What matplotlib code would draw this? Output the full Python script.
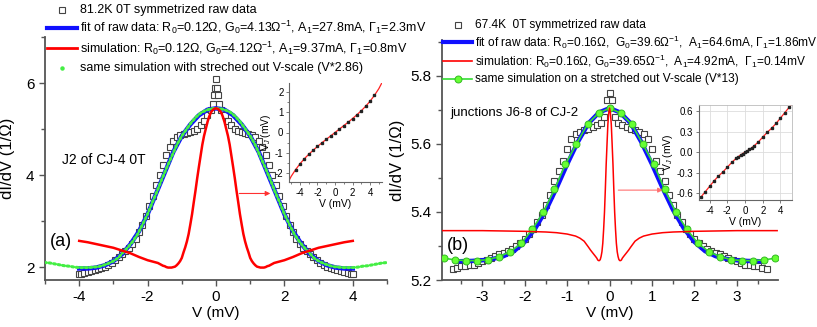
import numpy as np
import matplotlib
matplotlib.use("Agg")
import matplotlib.pyplot as plt
from matplotlib.lines import Line2D
from matplotlib.ticker import MultipleLocator

plt.rcParams['font.family'] = ['Liberation Sans', 'DejaVu Sans']
plt.rcParams['mathtext.fontset'] = 'custom'
plt.rcParams['mathtext.rm'] = 'Liberation Sans'
plt.rcParams['mathtext.it'] = 'Liberation Sans:italic'
plt.rcParams['axes.unicode_minus'] = False

W, H = 817, 327

# ---------------- panel (a) data ----------------
# symmetrized raw data, positive half (mirrored below)
raw_a_v = [0.0, 0.03, 0.06, 0.09, 0.15, 0.25, 0.35, 0.45, 0.55, 0.65, 0.75, 0.85, 0.95,
           1.05, 1.15, 1.25, 1.35, 1.45, 1.55, 1.65, 1.75, 1.85, 1.95, 2.05, 2.15, 2.25,
           2.35, 2.45, 2.55, 2.65, 2.75, 2.85, 2.95, 3.05, 3.15, 3.25, 3.35, 3.45, 3.55,
           3.65, 3.75, 3.85, 3.95, 4.0]
raw_a_g = [6.08, 5.9, 5.73, 5.55, 5.42, 5.3, 5.18, 5.08, 5.0, 4.96, 4.93, 4.92, 4.9,
           4.88, 4.83, 4.74, 4.6, 4.43, 4.22, 4.0, 3.78, 3.55, 3.32, 3.1, 2.92, 2.76,
           2.62, 2.5, 2.42, 2.35, 2.28, 2.22, 2.16, 2.1, 2.05, 2.01, 1.98, 1.95, 1.93,
           1.91, 1.89, 1.87, 1.85, 1.84]
fit_a_v = [0.0, 0.25, 0.5, 0.75, 1.0, 1.25, 1.5, 1.75, 2.0, 2.25, 2.5, 2.75, 3.0,
           3.25, 3.5, 3.75, 4.0]
fit_a_g = [5.45, 5.42, 5.3, 5.1, 4.85, 4.5, 4.05, 3.6, 3.15, 2.78, 2.5, 2.28, 2.13,
           2.04, 1.99, 1.97, 1.97]
sim_a_v = [0.0, 0.05, 0.1, 0.15, 0.2, 0.25, 0.3, 0.35, 0.4, 0.45, 0.5, 0.55, 0.6, 0.65,
           0.7, 0.75, 0.8, 0.85, 0.9, 0.95, 1.0, 1.05, 1.1, 1.15, 1.2, 1.25, 1.3, 1.35,
           1.4, 1.45, 1.5, 1.55, 1.6, 1.65, 1.7, 1.75, 2.0, 2.25, 2.5, 2.75, 3.0, 3.25,
           3.5, 3.75, 4.0]
sim_a_g = [5.45, 5.44, 5.41, 5.36, 5.27, 5.15, 5.0, 4.85, 4.66, 4.42, 4.18, 3.93, 3.66,
           3.41, 3.15, 2.93, 2.72, 2.56, 2.43, 2.32, 2.2, 2.13, 2.08, 2.04, 2.01, 2.0,
           1.99, 1.99, 1.99, 2.0, 2.02, 2.03, 2.05, 2.07, 2.09, 2.1, 2.15, 2.22, 2.3,
           2.36, 2.42, 2.46, 2.5, 2.54, 2.57]
stretch_a = 2.86
# inset (a): V vs V_J
ins_a_v = [0.5, 1.0, 1.5, 2.0, 2.5, 3.0, 3.5, 4.0, 4.5]
ins_a_vj = [0.17, 0.34, 0.51, 0.69, 0.88, 1.08, 1.3, 1.55, 1.84]
ins_a_line_v = [0.5, 1.0, 1.5, 2.0, 2.5, 3.0, 3.5, 4.0, 4.5, 5.0, 5.3]
ins_a_line_vj = [0.17, 0.34, 0.51, 0.69, 0.88, 1.08, 1.3, 1.55, 1.84, 2.17, 2.42]

# ---------------- panel (b) data ----------------
raw_b_v = [0.0, 0.05, 0.12, 0.2, 0.3, 0.4, 0.5, 0.6, 0.7, 0.8, 0.9, 1.0, 1.1, 1.2, 1.3,
           1.4, 1.5, 1.6, 1.7, 1.8, 1.9, 2.0, 2.1, 2.2, 2.3, 2.4, 2.5, 2.6, 2.7, 2.8,
           2.9, 3.0, 3.1, 3.2, 3.3, 3.4, 3.5, 3.6, 3.7]
raw_b_g = [5.75, 5.73, 5.68, 5.66, 5.655, 5.65, 5.645, 5.64, 5.635, 5.63, 5.615, 5.585,
           5.55, 5.52, 5.49, 5.45, 5.42, 5.39, 5.37, 5.35, 5.335, 5.32, 5.31, 5.3, 5.29,
           5.285, 5.28, 5.275, 5.27, 5.265, 5.26, 5.255, 5.25, 5.245, 5.245, 5.24, 5.24,
           5.235, 5.232]
fit_b_v = [0.0, 0.25, 0.5, 0.75, 1.0, 1.25, 1.5, 1.75, 2.0, 2.25, 2.5, 2.75, 3.0, 3.25, 3.6]
fit_b_g = [5.705, 5.692, 5.66, 5.605, 5.54, 5.47, 5.405, 5.352, 5.312, 5.285, 5.27,
           5.262, 5.258, 5.256, 5.255]
sim_b_v = [0.0, 0.02, 0.04, 0.06, 0.08, 0.1, 0.12, 0.14, 0.16, 0.18, 0.2, 0.22, 0.24,
           0.26, 0.28, 0.3, 0.33, 0.4, 0.45, 0.5, 0.6, 0.7, 0.8, 0.9, 1.0, 1.25, 1.5,
           2.0, 2.5, 3.0, 3.5, 3.95]
sim_b_g = [5.705, 5.69, 5.658, 5.60, 5.54, 5.466, 5.399, 5.349, 5.308, 5.283, 5.269,
           5.26, 5.257, 5.257, 5.259, 5.264, 5.269, 5.28, 5.288, 5.297, 5.314, 5.323,
           5.329, 5.332, 5.335, 5.339, 5.341, 5.343, 5.344, 5.345, 5.345, 5.345]
stretch_b = 13
n_stretch_b = 16  # simulated points that stay inside the axis after stretching
ins_b_v = [0.25, 0.5, 0.75, 1.0, 1.5, 2.0, 2.5, 3.0, 3.5, 4.0, 4.5, 5.0]
ins_b_vj = [0.02, 0.04, 0.065, 0.09, 0.15, 0.22, 0.29, 0.35, 0.42, 0.5, 0.58, 0.66]
ins_b_line_v = [0.25, 0.5, 0.75, 1.0, 1.5, 2.0, 2.5, 3.0, 3.5, 4.0, 4.5, 5.0, 5.2]
ins_b_line_vj = [0.02, 0.04, 0.065, 0.09, 0.15, 0.22, 0.29, 0.35, 0.42, 0.5, 0.58, 0.66, 0.69]


def mirror(v, g, odd=False):
    v = np.asarray(v, float)
    g = np.asarray(g, float)
    gs = -g[::-1] if odd else g[::-1]
    if v[0] == 0:
        return np.concatenate([-v[:0:-1], v]), np.concatenate([gs[:-1], g])
    return np.concatenate([-v[::-1], v]), np.concatenate([gs, g])


def px(l, t, r, b):
    return [l / W, 1 - b / H, (r - l) / W, (b - t) / H]


def style_main(ax):
    for s in ['top', 'right']:
        ax.spines[s].set_visible(False)
    for s in ['left', 'bottom']:
        ax.spines[s].set_color('#555555')
        ax.spines[s].set_linewidth(1.3)
    ax.tick_params(which='both', direction='out', colors='#555555', labelcolor='black',
                   labelsize=11)
    ax.tick_params(which='major', length=4, width=1)
    ax.tick_params(which='minor', length=3, width=1)


def style_inset(ax, box=False):
    for s in ['top', 'right']:
        ax.spines[s].set_visible(box)
        ax.spines[s].set_color('#bbbbbb')
        ax.spines[s].set_linewidth(0.6)
    for s in ['left', 'bottom']:
        ax.spines[s].set_color('#666666')
        ax.spines[s].set_linewidth(0.8)
    ax.tick_params(which='both', direction='out', colors='#666666', labelcolor='black',
                   labelsize=7, length=2.5, width=0.6, pad=1.5)
    ax.patch.set_alpha(0)


def key(x0, x1, y, text, fs, marker_only=False, **kw):
    if marker_only:
        fig.add_artist(Line2D([(x0 + x1) / 2 / W], [1 - y / H], linestyle='none', **kw))
    else:
        xm = (x0 + x1) / 2
        fig.add_artist(Line2D([x0 / W, xm / W, x1 / W], [1 - y / H] * 3, **kw))
    fig.text((x1 + 3) / W, 1 - y / H, text, va='center', ha='left', fontsize=fs)


fig = plt.figure(figsize=(W / 100, H / 100), dpi=100)

# ---------------- panel (a) ----------------
ax = fig.add_axes(px(45, 37, 387, 280))
style_main(ax)
rv, rg = mirror(raw_a_v, raw_a_g)
ax.plot(rv, rg, 's', ms=4.2, mfc='white', mec='#444444', mew=0.8, zorder=2)
fv, fg = mirror(fit_a_v, fit_a_g)
ax.plot(fv, fg, color='#1010ff', lw=3.2, zorder=3)
sv, sg = mirror(sim_a_v, sim_a_g)
ax.plot(sv * stretch_a, sg, color='#44ee44', lw=2.2, ls=(0, (0.6, 0.9)),
        dash_capstyle='round', zorder=4)
ax.plot(sv, sg, color='#ff0000', lw=1.8, zorder=5)
ax.annotate('', xy=(1.67, 3.6), xytext=(0.6, 3.6),
            arrowprops=dict(arrowstyle='-|>', color='#ff3030', lw=0.8, mutation_scale=7))
ax.set_xlim(-5, 5)
ax.set_ylim(1.72, 7.0)
ax.set_xticks([-4, -2, 0, 2, 4])
ax.set_yticks([2, 4, 6])
ax.xaxis.set_minor_locator(MultipleLocator(1))
ax.yaxis.set_minor_locator(MultipleLocator(1))
ax.set_xlabel('V (mV)', fontsize=11, labelpad=1)
ax.set_ylabel('dI/dV (1/Ω)', fontsize=12, labelpad=8)
ax.text((62 - 45) / 342, 1 - (160 - 37) / 243, 'J2 of CJ-4 0T', transform=ax.transAxes,
        fontsize=10, va='center')
ax.text((50 - 45) / 342, 1 - (242 - 37) / 243, '(a)', transform=ax.transAxes,
        fontsize=13, va='center')

ia = fig.add_axes(px(289, 83, 382, 182))
style_inset(ia)
iv, ivj = mirror(ins_a_line_v, ins_a_line_vj, odd=True)
ia.plot(iv, ivj, color='#ff2020', lw=0.9)
dv, dvj = mirror(ins_a_v, ins_a_vj, odd=True)
ia.plot(np.append(dv, 0), np.append(dvj, 0), 's', ms=1.6, color='#222222')
ia.set_xlim(-5.25, 5.36)
ia.set_ylim(-2.45, 2.45)
ia.set_xticks([-4, -2, 0, 2, 4])
ia.set_yticks([-2, -1, 0, 1, 2])
ia.xaxis.set_minor_locator(MultipleLocator(1))
ia.yaxis.set_minor_locator(MultipleLocator(0.5))
ia.tick_params(which='minor', length=1.5)
ia.set_xlabel('V (mV)', fontsize=7.5, labelpad=1)
ia.set_ylabel('V$_J$ (mV)', fontsize=7.5, labelpad=1)

# legend (a)
key(47, 77, 10, '81.2K 0T symmetrized raw data', 9, marker_only=True,
    marker='s', ms=4, mfc='white', mec='#444444', mew=0.8)
key(47, 77, 27.5, 'fit of raw data: R$_0$=0.12Ω, G$_0$=4.13Ω$^{-1}$, A$_1$=27.8mA, Γ$_1$=2.3mV',
    9, color='#1010ff', lw=3)
key(47, 77, 48, 'simulation: R$_0$=0.12Ω, G$_0$=4.12Ω$^{-1}$, A$_1$=9.37mA, Γ$_1$=0.8mV',
    9, color='#ff0000', lw=2)
key(47, 77, 68, 'same simulation with streched out V-scale (V*2.86)', 9, marker_only=True,
    marker='o', ms=2.2, color='#44ee44')

# ---------------- panel (b) ----------------
bx = fig.add_axes(px(442, 40, 778, 280))
style_main(bx)
rv, rg = mirror(raw_b_v, raw_b_g)
bx.plot(rv, rg, 's', ms=5, mfc='white', mec='#444444', mew=0.8, zorder=2)
fv, fg = mirror(fit_b_v, fit_b_g)
bx.plot(fv, fg, color='#1010ff', lw=3.2, zorder=3)
sv, sg = mirror(sim_b_v, sim_b_g)
gv, gg = mirror(sim_b_v[:n_stretch_b], sim_b_g[:n_stretch_b])
bx.plot(gv * stretch_b, gg, '-o', color='#33dd33', lw=1.2, ms=5, mfc='#66ff33',
        mec='#33bb22', mew=0.7, zorder=4)
bx.plot(sv, sg, color='#ff0000', lw=1.1, zorder=5)
bx.annotate('', xy=(1.32, 5.464), xytext=(0.14, 5.464),
            arrowprops=dict(arrowstyle='-|>', color='#ff7070', lw=0.8, mutation_scale=7))
bx.set_xlim(-3.95, 3.97)
bx.set_ylim(5.2, 5.905)
bx.set_xticks([-3, -2, -1, 0, 1, 2, 3])
bx.set_yticks([5.2, 5.4, 5.6, 5.8])
bx.xaxis.set_minor_locator(MultipleLocator(0.5))
bx.yaxis.set_minor_locator(MultipleLocator(0.1))
bx.set_xlabel('V (mV)', fontsize=11, labelpad=1)
bx.set_ylabel('dI/dV (1/Ω)', fontsize=12, labelpad=4)
bx.text((450 - 442) / 336, 1 - (113 - 40) / 240, 'junctions J6-8 of CJ-2',
        transform=bx.transAxes, fontsize=9.5, va='center')
bx.text((447 - 442) / 336, 1 - (245 - 40) / 240, '(b)', transform=bx.transAxes,
        fontsize=13, va='center')

ib = fig.add_axes(px(699, 105, 792, 200))
style_inset(ib, box=True)
ib.grid(True, color='#dddddd', lw=0.6)
ib.set_axisbelow(True)
iv, ivj = mirror(ins_b_line_v, ins_b_line_vj, odd=True)
ib.plot(iv, ivj, color='#ff2020', lw=0.9)
dv, dvj = mirror(ins_b_v, ins_b_vj, odd=True)
ib.plot(np.append(dv, 0), np.append(dvj, 0), 's', ms=1.6, color='#222222')
ib.set_xlim(-5.2, 5.3)
ib.set_ylim(-0.70, 0.69)
ib.set_xticks([-4, -2, 0, 2, 4])
ib.set_yticks([-0.6, -0.3, 0.0, 0.3, 0.6])
ib.set_yticklabels(['-0.6', '-0.3', '0.0', '0.3', '0.6'])
ib.set_xlabel('V (mV)', fontsize=7.5, labelpad=1)
ib.set_ylabel('V$_J$ (mV)', fontsize=7.5, labelpad=1)

# legend (b)
key(443, 472, 25, '67.4K  0T symmetrized raw data', 8.6, marker_only=True,
    marker='s', ms=4, mfc='white', mec='#444444', mew=0.8)
key(443, 472, 42, 'fit of raw data: R$_0$=0.16Ω,  G$_0$=39.6Ω$^{-1}$,  A$_1$=64.6mA, Γ$_1$=1.86mV',
    8.6, color='#1010ff', lw=3)
key(443, 472, 61, 'simulation: R$_0$=0.16Ω, G$_0$=39.65Ω$^{-1}$,  A$_1$=4.92mA,  Γ$_1$=0.14mV',
    8.6, color='#ff0000', lw=1.2)
key(443, 472, 79, 'same simulation on a stretched out V-scale (V*13)', 8.6,
    color='#33dd33', lw=1.2, marker='o', ms=5, mfc='#66ff33', mec='#33bb22',
    markevery=[1], mew=0.7)

fig.savefig('out.png', dpi=100)
